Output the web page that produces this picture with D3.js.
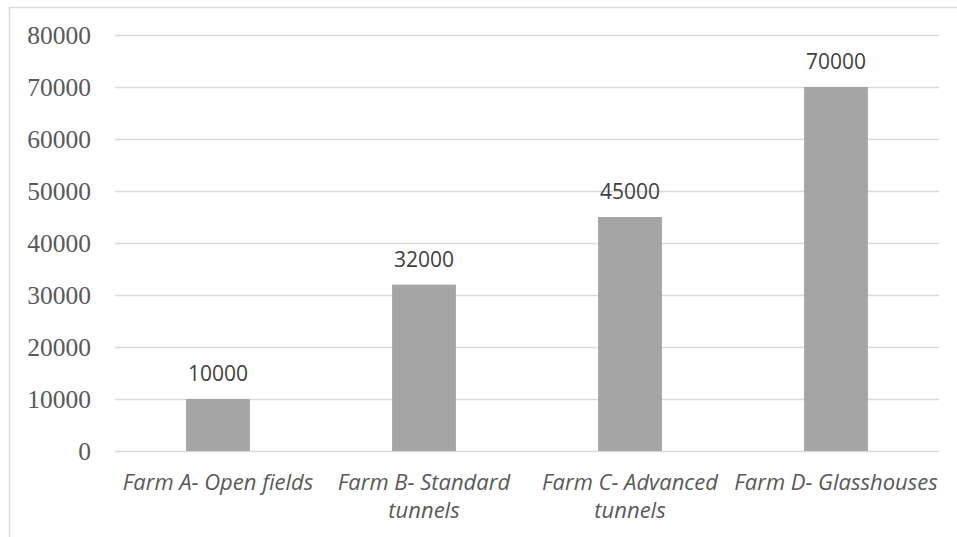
<!DOCTYPE html>
<html>
<head>
<meta charset="utf-8">
<script src="https://cdn.jsdelivr.net/npm/d3@7"></script>
<style>
  html, body { margin: 0; padding: 0; background: #fff; }
  svg { display: block; }
</style>
</head>
<body>
<svg id="chart" width="957" height="537"></svg>
<script>
const categories = [
  "Farm A- Open fields",
  "Farm B- Standard tunnels",
  "Farm C- Advanced tunnels",
  "Farm D- Glasshouses"
];
const values = [10000, 32000, 45000, 70000];
const yTicks = [0, 10000, 20000, 30000, 40000, 50000, 60000, 70000, 80000];

const svg = d3.select("#chart");
const W = 957, H = 537;
const plot = { left: 115, right: 939, top: 35, bottom: 451 };

// chart frame (extends past the right/bottom edges)
svg.append("rect")
  .attr("x", 9.5).attr("y", 7.5)
  .attr("width", W + 10).attr("height", H + 10)
  .attr("fill", "#fff").attr("stroke", "#d9d9d9").attr("stroke-width", 1.5);

const x = d3.scaleBand().domain(categories).range([plot.left, plot.right]).paddingInner(0.69).paddingOuter(0.345);
const y = d3.scaleLinear().domain([0, 80000]).range([plot.bottom, plot.top]);

// horizontal gridlines
svg.append("g").selectAll("line").data(yTicks).join("line")
  .attr("x1", plot.left).attr("x2", plot.right)
  .attr("y1", d => Math.round(y(d)) + 0.5).attr("y2", d => Math.round(y(d)) + 0.5)
  .attr("stroke", "#d9d9d9").attr("stroke-width", 1.5);

// y axis labels
const yAxis = d3.axisLeft(y).tickValues(yTicks).tickSize(0).tickPadding(0).tickFormat(d3.format("d"));
const gy = svg.append("g").attr("transform", `translate(${plot.left - 24},0)`).call(yAxis);
gy.select(".domain").remove();
gy.selectAll("text")
  .attr("font-family", "'Liberation Serif', 'Times New Roman', serif")
  .attr("font-size", 25.5)
  .attr("fill", "#595959")
  .attr("dy", "0.34em");

// bars
svg.append("g").selectAll("rect").data(values).join("rect")
  .attr("x", (d, i) => x(categories[i]))
  .attr("width", x.bandwidth())
  .attr("y", d => y(d))
  .attr("height", d => plot.bottom - y(d))
  .attr("fill", "#a5a5a5");

// value labels
svg.append("g").selectAll("text").data(values).join("text")
  .attr("x", (d, i) => x(categories[i]) + x.bandwidth() / 2)
  .attr("y", d => y(d) - 18)
  .attr("text-anchor", "middle")
  .attr("font-family", "'Open Sans', sans-serif")
  .attr("font-size", 21)
  .attr("fill", "#404040")
  .text(d => d);

// category labels, wrapped when wider than the band step
const maxLabelWidth = x.step() + 8;
const gx = svg.append("g");
categories.forEach(c => {
  const cx = x(c) + x.bandwidth() / 2;
  const t = gx.append("text")
    .attr("x", cx).attr("y", 490)
    .attr("text-anchor", "middle")
    .attr("font-family", "'Open Sans', sans-serif")
    .attr("font-style", "italic")
    .attr("font-size", 22)
    .attr("fill", "#595959");
  const words = c.split(" ");
  let line = [];
  let ts = t.append("tspan").attr("x", cx).attr("dy", 0);
  words.forEach(w => {
    line.push(w);
    ts.text(line.join(" "));
    if (ts.node().getComputedTextLength() > maxLabelWidth && line.length > 1) {
      line.pop();
      ts.text(line.join(" "));
      line = [w];
      ts = t.append("tspan").attr("x", cx).attr("dy", 28).text(w);
    }
  });
});
</script>
</body>
</html>
